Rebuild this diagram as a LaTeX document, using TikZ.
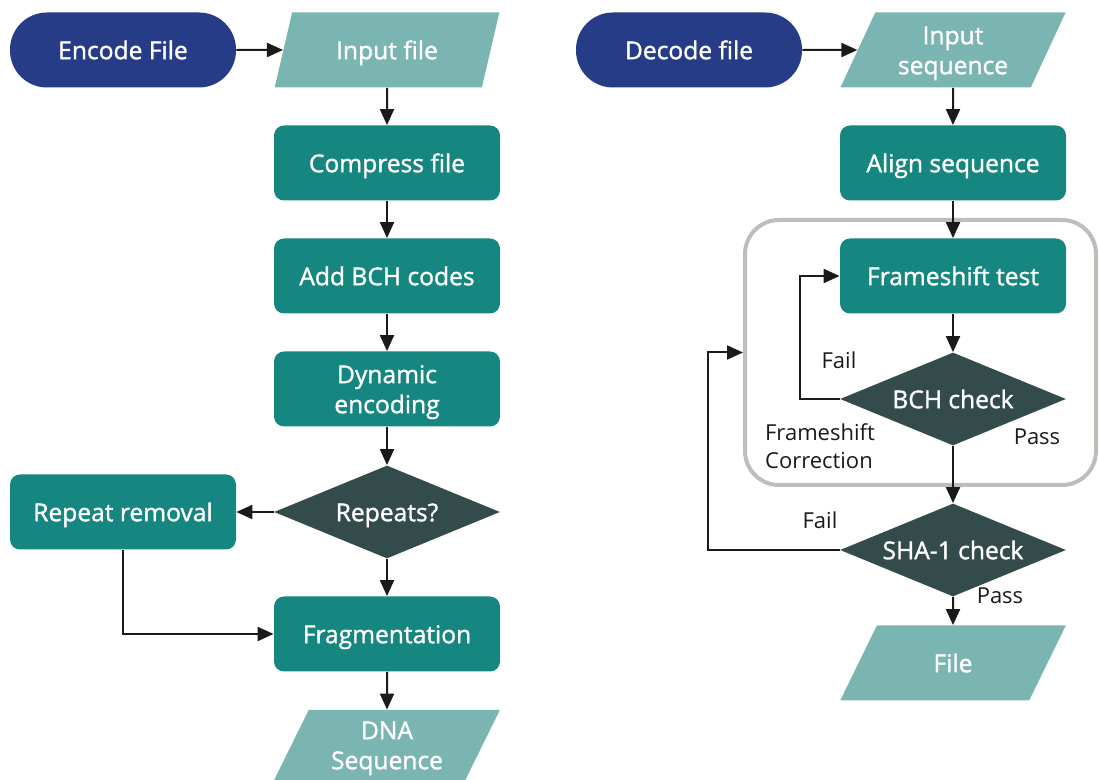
\documentclass[tikz,border=0pt]{standalone}
\usepackage{fontspec}
\setmainfont{Open Sans}
\newfontfamily\semifont{Open Sans}[FakeBold=1.3]
\usetikzlibrary{shapes.geometric,arrows.meta}
\definecolor{termblue}{HTML}{263C87}
\definecolor{iocol}{HTML}{7BB5B2}
\definecolor{proccol}{HTML}{158780}
\definecolor{deccol}{HTML}{334B4A}
\definecolor{arrcol}{HTML}{1A1A1A}
\definecolor{grpcol}{HTML}{BEBEB8}
\tikzset{
  base/.style={text=white, font=\semifont\fontsize{12.3}{15}\selectfont, align=center, inner sep=0pt, text height=0.72em+2pt, text depth=0pt},
  twoline/.style={text height=0.72em+17pt, text depth=0pt},
  term/.style={base, rectangle, rounded corners=18.5pt, fill=termblue, minimum width=113pt, minimum height=37.5pt},
  proc/.style={base, rectangle, rounded corners=5pt, fill=proccol, minimum width=113pt, minimum height=37.5pt},
  io/.style={base, trapezium, trapezium left angle=63, trapezium right angle=117, trapezium stretches=true, fill=iocol, minimum width=113pt, minimum height=37.5pt},
  dec/.style={base, diamond, aspect=2.43, fill=deccol, minimum width=113pt, minimum height=46.5pt},
  grp/.style={draw=grpcol, line width=2pt, rounded corners=17pt, minimum width=175.5pt, minimum height=132.5pt, inner sep=0pt},
  arr/.style={draw=arrcol, line width=1pt, -{Triangle[length=8pt,width=7pt]}},
  lbl/.style={text=arrcol, font=\fontsize{11}{14}\selectfont, align=left, inner sep=0pt}
}
\begin{document}
\begin{tikzpicture}[x=0.5pt,y=-0.5pt]
\useasboundingbox (0,0) rectangle (1099,780);
% left column
\node[term] (enc) at (123,50) {Encode File};
\node[io] (inf) at (387,50) {Input file};
\node[proc] (comp) at (387,163) {Compress file};
\node[proc] (addbch) at (387,276) {Add BCH codes};
\node[proc, twoline] (dyn) at (387,389) {Dynamic\\encoding};
\node[dec] (rep) at (387,512) {Repeats?};
\node[proc] (rr) at (123,512) {Repeat removal};
\node[proc] (frag) at (387,634) {Fragmentation};
\node[io, twoline, minimum height=35pt] (dna) at (387,745) {DNA\\Sequence};
\draw[arr] (enc.east) -- (inf.west);
\draw[arr] (inf.south) -- (comp.north);
\draw[arr] (comp.south) -- (addbch.north);
\draw[arr] (addbch.south) -- (dyn.north);
\draw[arr] (dyn.south) -- (rep.north);
\draw[arr] (rep.west) -- (rr.east);
\draw[arr] (rep.south) -- (frag.north);
\draw[arr] (rr.south) |- (frag.west);
\draw[arr] (frag.south) -- (dna.north);
% right column
\node[grp] (group) at (920.5,352.5) {};
\node[term] (dec) at (689,50) {Decode file};
\node[io, twoline] (ins) at (953,50) {Input\\sequence};
\node[proc] (align) at (953,163) {Align sequence};
\node[proc] (fst) at (953,276) {Frameshift test};
\node[dec] (bchc) at (953,399) {BCH check};
\node[dec] (sha) at (953,550) {SHA-1 check};
\node[io] (file) at (953,663) {File};
\draw[arr] (dec.east) -- (ins.west);
\draw[arr] (ins.south) -- (align.north);
\draw[arr] (align.south) -- (fst.north);
\draw[arr] (fst.south) -- (bchc.north);
\draw[arr] (bchc.west) -- ++(-40,0) |- (fst.west);
\draw[arr] (bchc.south) -- (sha.north);
\draw[arr] (sha.west) -- ++(-132,0) |- (group.west);
\draw[arr] (sha.south) -- (file.north);
\node[lbl] (fail1) at (839,360) {Fail};
\node[lbl] (fscorr) at (820,446) {Frameshift\\Correction};
\node[lbl] (pass1) at (1037,437) {Pass};
\node[lbl] (fail2) at (820,520) {Fail};
\node[lbl] (pass2) at (1000,596) {Pass};
\end{tikzpicture}
\end{document}
